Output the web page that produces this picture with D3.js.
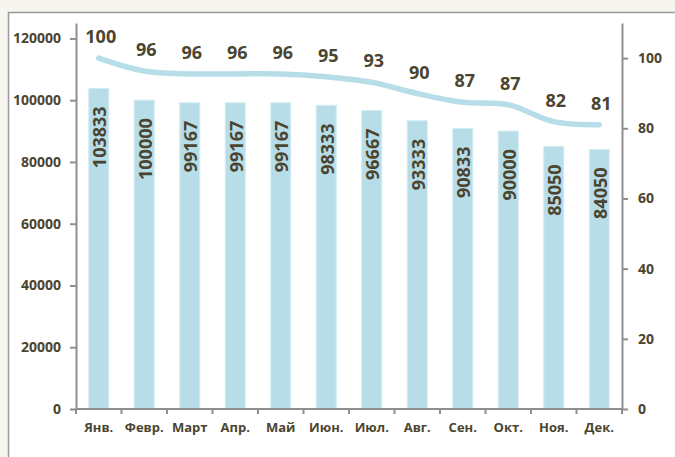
<!DOCTYPE html>
<html>
<head>
<meta charset="utf-8">
<script src="https://cdn.jsdelivr.net/npm/d3@7"></script>
<style>
body{margin:0;background:#f6f5f0;}
svg{display:block;}
</style>
</head>
<body>
<script>
var months=["Янв.","Февр.","Март","Апр.","Май","Июн.","Июл.","Авг.","Сен.","Окт.","Ноя.","Дек."]
var salary=[103833,100000,99167,99167,99167,98333,96667,93333,90833,90000,85050,84050]
var index=[100,96.3,95.5,95.5,95.5,94.7,93.1,89.9,87.4,86.7,81.9,81.0]
var leftTicks=[0,20000,40000,60000,80000,100000,120000]
var rightTicks=[0,20,40,60,80,100]

var screen={width:675,height:457};
var plot={left:76,right:622,top:23,bottom:409};
var textColor="#4b4530", axisColor="#8e8e8e", barColor="#b7dde8";
var font="'Open Sans', sans-serif";

var svg=d3.select("body").append("svg")
  .attr("width",screen.width)
  .attr("height",screen.height)

// panel
svg.append("rect")
  .attr("x",8.5).attr("y",12.5)
  .attr("width",700).attr("height",500)
  .attr("fill","white")
  .attr("stroke","#9a9a9a")
  .attr("stroke-width",1.5)

var x=d3.scaleBand()
  .domain(months)
  .range([plot.left,plot.right])
  .paddingInner(0.56)
  .paddingOuter(0.28)
var yL=d3.scaleLinear().domain([0,125000]).range([plot.bottom,plot.top])
var yR=d3.scaleLinear().domain([0,110]).range([plot.bottom,plot.top])
var cx=function(d){return x(d)+x.bandwidth()/2;}

// bars
svg.append("g").selectAll("rect")
  .data(salary)
  .enter()
  .append("rect")
  .attr("x",function(d,i){return x(months[i]);})
  .attr("width",x.bandwidth())
  .attr("y",function(d){return yL(d);})
  .attr("height",function(d){return plot.bottom-yL(d);})
  .attr("fill",barColor)
  .attr("stroke","#d3ecf2")
  .attr("stroke-width",1)

// bar labels
svg.append("g").selectAll("text")
  .data(salary)
  .enter()
  .append("text")
  .attr("transform",function(d,i){
    return "translate("+(cx(months[i])+1)+","+(yL(d)+18)+") rotate(-90)";
  })
  .attr("text-anchor","end")
  .attr("dy","0.36em")
  .attr("font-family",font)
  .attr("font-weight","bold")
  .attr("font-size","18px")
  .attr("fill",textColor)
  .text(function(d){return d;})

// line
var line=d3.line()
  .x(function(d,i){return cx(months[i]);})
  .y(function(d){return yR(d);})
  .curve(d3.curveCatmullRom.alpha(0.5))
svg.append("path")
  .datum(index)
  .attr("d",line)
  .attr("fill","none")
  .attr("stroke",barColor)
  .attr("stroke-width",5.5)
  .attr("stroke-linecap","round")

svg.append("g").selectAll("text")
  .data(index)
  .enter()
  .append("text")
  .attr("x",function(d,i){return cx(months[i])+2;})
  .attr("y",function(d){return yR(d)-15;})
  .attr("text-anchor","middle")
  .attr("font-family",font)
  .attr("font-weight","bold")
  .attr("font-size","18px")
  .attr("fill",textColor)
  .text(function(d){return d3.format(".0f")(d);})

// axes
var styleAxis=function(g){
  g.select(".domain").attr("stroke",axisColor).attr("stroke-width",2)
  g.selectAll(".tick line").attr("stroke",axisColor).attr("stroke-width",2)
  g.selectAll(".tick text")
    .attr("fill",textColor)
    .attr("font-family",font)
    .attr("font-weight","bold")
    .attr("font-size","14px")
}
svg.append("g")
  .attr("transform","translate("+plot.left+",0)")
  .call(d3.axisLeft(yL).tickValues(leftTicks).tickSize(6).tickSizeOuter(0).tickPadding(9).tickFormat(d3.format("d")))
  .call(styleAxis)
svg.append("g")
  .attr("transform","translate("+plot.right+",0)")
  .call(d3.axisRight(yR).tickValues(rightTicks).tickSize(6).tickSizeOuter(0).tickPadding(10))
  .call(styleAxis)

var xAxis=svg.append("g")
  .attr("transform","translate(0,"+plot.bottom+")")
xAxis.append("line")
  .attr("x1",plot.left).attr("x2",plot.right)
  .attr("stroke",axisColor).attr("stroke-width",2)
xAxis.selectAll(".sep")
  .data(d3.range(months.length+1))
  .enter()
  .append("line")
  .attr("x1",function(i){return plot.left+i*x.step();})
  .attr("x2",function(i){return plot.left+i*x.step();})
  .attr("y1",0).attr("y2",5)
  .attr("stroke",axisColor).attr("stroke-width",2)
xAxis.selectAll("text")
  .data(months)
  .enter()
  .append("text")
  .attr("x",function(d){return cx(d);})
  .attr("y",23)
  .attr("text-anchor","middle")
  .attr("fill",textColor)
  .attr("font-family",font)
  .attr("font-weight","bold")
  .attr("font-size","13px")
  .text(function(d){return d;})
</script>
</body>
</html>
